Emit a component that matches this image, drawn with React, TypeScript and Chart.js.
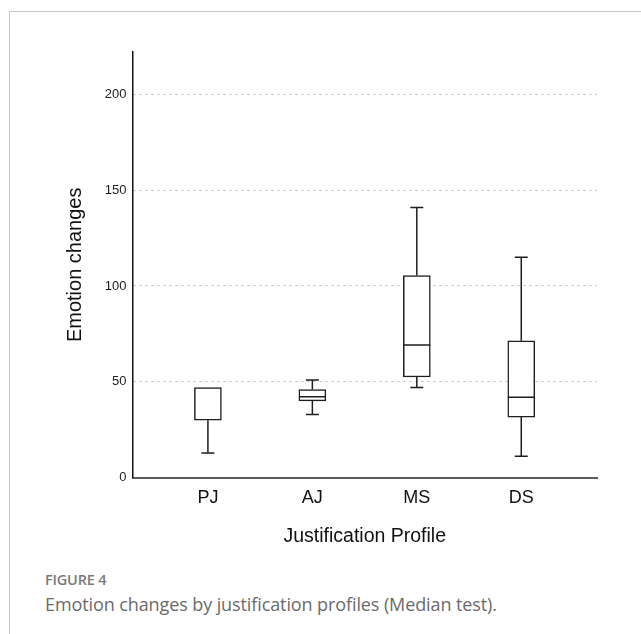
import React, { useEffect, useRef } from 'react';
import { Chart, registerables } from 'chart.js';

Chart.register(...registerables);

// ---- data ----
const categories = ['PJ', 'AJ', 'MS', 'DS'];
const minValues = [12.9, 32.9, 47.0, 11.2];
const q1Values = [30.0, 40.1, 52.5, 31.6];
const medianValues = [47.0, 42.2, 69.2, 42.0];
const q3Values = [47.0, 46.0, 105.4, 71.4];
const maxValues = [47.0, 50.9, 140.9, 115.0];
const yTicks = [0, 50, 100, 150, 200];

const xTitle = 'Justification Profile';
const yTitle = 'Emotion changes';
const figureLabel = 'FIGURE 4';
const figureCaption = 'Emotion changes by justification profiles (Median test).';

const FONT = "'Liberation Sans', Arial, sans-serif";
const LINE = '#1e1e1e';

const whiskerPlugin = {
  id: 'whiskers',
  afterDatasetsDraw(chart: any) {
    const { ctx } = chart;
    const xs = chart.scales.x;
    const ys = chart.scales.y;
    const meta = chart.getDatasetMeta(0);
    ctx.save();
    ctx.strokeStyle = LINE;
    ctx.lineWidth = 1.5;
    ctx.lineCap = 'butt';
    categories.forEach((_, i) => {
      const cx = xs.getPixelForValue(i);
      const bar = meta.data[i];
      const half = bar ? bar.width / 2 : 13;
      const cap = 6.5;
      const yMin = ys.getPixelForValue(minValues[i]);
      const yQ1 = ys.getPixelForValue(q1Values[i]);
      const yMed = ys.getPixelForValue(medianValues[i]);
      const yQ3 = ys.getPixelForValue(q3Values[i]);
      const yMax = ys.getPixelForValue(maxValues[i]);
      ctx.beginPath();
      if (maxValues[i] > q3Values[i]) {
        ctx.moveTo(cx, yQ3);
        ctx.lineTo(cx, yMax);
        ctx.moveTo(cx - cap, yMax);
        ctx.lineTo(cx + cap, yMax);
      }
      if (minValues[i] < q1Values[i]) {
        ctx.moveTo(cx, yQ1);
        ctx.lineTo(cx, yMin);
        ctx.moveTo(cx - cap, yMin);
        ctx.lineTo(cx + cap, yMin);
      }
      // median (coincides with the box edge when equal to a quartile)
      if (medianValues[i] !== q3Values[i] && medianValues[i] !== q1Values[i]) {
        ctx.moveTo(cx - half, yMed);
        ctx.lineTo(cx + half, yMed);
      }
      ctx.stroke();
    });
    ctx.restore();
  },
};

export default function App() {
  const canvasRef = useRef<HTMLCanvasElement | null>(null);

  useEffect(() => {
    if (!canvasRef.current) return;
    const chart = new Chart(canvasRef.current, {
      type: 'bar',
      data: {
        datasets: [
          {
            label: 'IQR',
            data: categories.map((_, i) => ({ x: i, y: [q1Values[i], q3Values[i]] })) as any,
            backgroundColor: '#ffffff',
            borderColor: LINE,
            borderWidth: 1.5,
            borderSkipped: false,
            barThickness: 27,
          },
        ],
      },
      options: {
        animation: false,
        responsive: false,
        maintainAspectRatio: false,
        devicePixelRatio: 1,
        layout: { padding: { top: 52, right: 44, left: 0, bottom: 0 } },
        plugins: {
          legend: { display: false },
          tooltip: { enabled: false },
        },
        scales: {
          x: {
            type: 'linear',
            offset: false,
            min: -0.722,
            max: 3.725,
            afterBuildTicks: (s: any) => {
              s.ticks = categories.map((_, i) => ({ value: i }));
            },
            afterFit: (s: any) => {
              s.height = 82.3;
            },
            ticks: {
              callback: (v: any) => categories[v as number] ?? '',
              font: { family: FONT, size: 18 },
              color: '#111',
              padding: 10,
              maxRotation: 0,
            },
            grid: { display: false, drawTicks: false, offset: false },
            border: { display: true, color: '#5c5c5c', width: 2 },
            title: {
              display: true,
              text: xTitle,
              font: { family: FONT, size: 19.5 },
              color: '#111',
              padding: { top: 0, bottom: 11.4 },
            },
          },
          y: {
            type: 'linear',
            min: 0,
            max: 222,
            afterBuildTicks: (s: any) => {
              s.ticks = yTicks.map((v) => ({ value: v }));
            },
            afterFit: (s: any) => {
              s.width = 132.5;
            },
            ticks: {
              font: { family: FONT, size: 13 },
              color: '#222',
              padding: 6,
            },
            grid: {
              drawTicks: false,
              color: (c: any) => (c.tick && c.tick.value === 0 ? 'rgba(0,0,0,0)' : '#b8b8b8'),
              lineWidth: 1,
            },
            border: { display: true, color: '#111', width: 1.5, dash: [2, 4] },
            title: {
              display: true,
              text: yTitle,
              font: { family: FONT, size: 20 },
              color: '#111',
              padding: { top: 63.5, bottom: 0 },
            },
          },
        },
      },
      plugins: [whiskerPlugin],
    });
    return () => chart.destroy();
  }, []);

  return (
    <div
      style={{
        position: 'fixed',
        left: 0,
        top: 0,
        width: 641,
        height: 634,
        overflow: 'hidden',
        background: '#fff',
      }}
    >
      <div
        style={{
          position: 'absolute',
          left: 9,
          top: 11,
          width: 700,
          height: 700,
          borderTop: '1px solid #c8c8c8',
          borderLeft: '1px solid #c8c8c8',
        }}
      />
      <canvas
        ref={canvasRef}
        width={641}
        height={560}
        style={{ position: 'absolute', left: 0, top: 0, display: 'block' }}
      />
      <div
        style={{
          position: 'absolute',
          left: 45,
          top: 572,
          fontFamily: "'Open Sans', sans-serif",
          fontSize: 14.5,
          fontWeight: 600,
          lineHeight: '16px',
          color: '#7a7a7a',
          letterSpacing: '-0.2px',
          whiteSpace: 'nowrap',
        }}
      >
        {figureLabel}
      </div>
      <div
        style={{
          position: 'absolute',
          left: 45,
          top: 594,
          fontFamily: "'Open Sans', sans-serif",
          fontSize: 18,
          fontWeight: 400,
          lineHeight: '20px',
          color: '#6b6b6b',
          letterSpacing: '-0.1px',
          whiteSpace: 'nowrap',
        }}
      >
        {figureCaption}
      </div>
    </div>
  );
}
